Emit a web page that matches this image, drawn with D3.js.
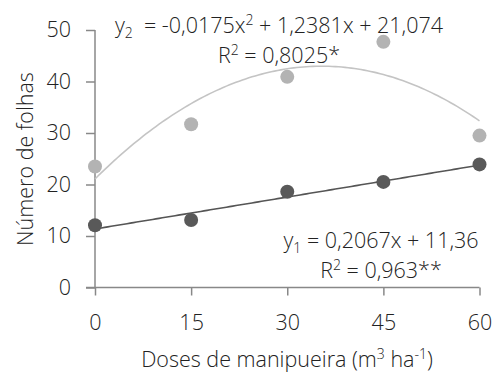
<!DOCTYPE html>
<html>
<head>
<meta charset="utf-8">
<script src="https://cdn.jsdelivr.net/npm/d3@7"></script>
<style>
  html, body { margin: 0; padding: 0; background: #fff; }
  svg { display: block; }
  text { font-family: "Open Sans", "Noto Sans", sans-serif; font-weight: 300; fill: #222; }
</style>
</head>
<body>
<svg id="chart" width="494" height="373"></svg>
<script>
// Doses of cassava wastewater (m³ ha⁻¹)
const doses = [0, 15, 30, 45, 60];
// Number of leaves, series 1 (dark) and series 2 (light)
const folhas1 = [12.1, 13.1, 18.6, 20.5, 23.9];
const folhas2 = [23.5, 31.7, 40.9, 47.7, 29.5];
// Fitted regression coefficients [c0, c1, c2] for y = c0 + c1·x + c2·x²
const coef1 = [11.36, 0.2067, 0];
const coef2 = [21.074, 1.2381, -0.0175];
const xTicks = [0, 15, 30, 45, 60];
const yTicks = [0, 10, 20, 30, 40, 50];

const FS = 21.5;   // main font size
const SS = 14;     // sub/superscript size

const svg = d3.select("#chart");
const x = d3.scaleLinear().domain([0, 60]).range([95, 479.5]);
const y = d3.scaleLinear().domain([0, 50]).range([287.5, 30]);
const axisColor = "#888";

function styleTicks(g) {
  g.selectAll(".tick line").attr("stroke", axisColor).attr("stroke-width", 1.5);
  g.selectAll(".tick text").attr("font-size", FS).attr("fill", "#222")
    .attr("font-family", "\"Open Sans\", sans-serif").attr("font-weight", 300);
}

// Y axis
const yAxis = svg.append("g").attr("transform", `translate(${x(0)},0)`)
  .call(d3.axisLeft(y).tickValues(yTicks).tickSize(9).tickPadding(15).tickFormat(d3.format("d")));
yAxis.select(".domain").attr("d", `M0,${y(50)}V${y(0)}`).attr("stroke", axisColor).attr("stroke-width", 1.5);
styleTicks(yAxis);

// X axis
const xAxis = svg.append("g").attr("transform", `translate(0,${y(0)})`)
  .call(d3.axisBottom(x).tickValues(xTicks).tickSize(8).tickPadding(19).tickFormat(d3.format("d")));
xAxis.select(".domain").attr("d", `M${x(0) - 9},0H${x(60)}`).attr("stroke", axisColor).attr("stroke-width", 1.5);
styleTicks(xAxis);

// Regression curves
const poly = c => v => c[0] + c[1] * v + c[2] * v * v;
const xs = d3.range(0, 60.01, 0.5);
const line = d3.line().x(d => x(d[0])).y(d => y(d[1]));

svg.append("path").datum(xs.map(v => [v, poly(coef2)(v)]))
  .attr("d", line).attr("fill", "none").attr("stroke", "#c4c4c4").attr("stroke-width", 1.6);
svg.append("path").datum(xs.map(v => [v, poly(coef1)(v)]))
  .attr("d", line).attr("fill", "none").attr("stroke", "#555").attr("stroke-width", 1.6);

// Observed points
svg.append("g").selectAll("circle").data(doses.map((d, i) => [d, folhas2[i]])).join("circle")
  .attr("cx", d => x(d[0])).attr("cy", d => y(d[1])).attr("r", 7).attr("fill", "#b3b3b3");
svg.append("g").selectAll("circle").data(doses.map((d, i) => [d, folhas1[i]])).join("circle")
  .attr("cx", d => x(d[0])).attr("cy", d => y(d[1])).attr("r", 7).attr("fill", "#595959");

// Text with sub/superscript runs: parts are [text, kind] where kind is "sub", "sup" or undefined
function richText(xp, yp, parts, anchor) {
  const t = svg.append("text").attr("x", xp).attr("y", yp).attr("font-size", FS)
    .attr("text-anchor", anchor || "start").attr("xml:space", "preserve");
  let shift = 0;
  parts.forEach(([str, kind]) => {
    const target = kind === "sub" ? 4.5 : kind === "sup" ? -8.5 : 0;
    const s = t.append("tspan").text(str).attr("dy", target - shift);
    if (kind) s.attr("font-size", SS);
    shift = target;
  });
  return t;
}

// Regression equations
richText(279, 33, [["y"], ["2", "sub"], ["  = -0,0175x"], ["2", "sup"], [" + 1,2381x + 21,074"]], "middle");
richText(279, 63, [["R"], ["2", "sup"], [" = 0,8025*"]], "middle");
richText(381, 248, [["y"], ["1", "sub"], [" = 0,2067x + 11,36"]], "middle");
richText(381, 278, [["R"], ["2", "sup"], [" = 0,963**"]], "middle");

// Axis titles
richText(287, 367, [["Doses de manipueira (m"], ["3", "sup"], [" ha"], ["-1", "sup"], [")"]], "middle");
svg.append("text").attr("transform", "translate(33,159) rotate(-90)")
  .attr("text-anchor", "middle").attr("font-size", FS).text("Número de folhas");
</script>
</body>
</html>
